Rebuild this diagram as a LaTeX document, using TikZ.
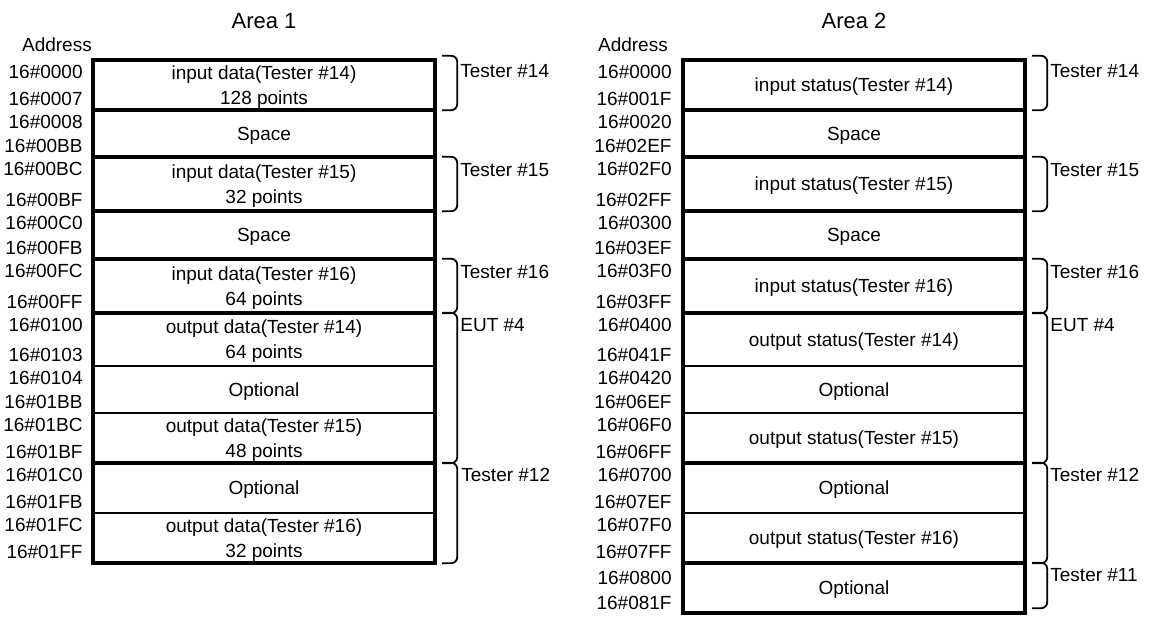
\documentclass[tikz,border=0pt]{standalone}
\usepackage{fontspec}
\setmainfont{Liberation Sans}
\newcommand{\rowfont}{\fontsize{19}{25}\selectfont}
\newcommand{\areafont}{\fontsize{22}{26}\selectfont}

\begin{document}
\begin{tikzpicture}[x=1pt,y=-1pt,
  memrow/.style={minimum width=342pt,inner sep=0pt,align=center,text depth=0pt,font=\rowfont},
  addr/.style={anchor=east,inner sep=0pt,font=\rowfont},
  brlab/.style={anchor=west,inner sep=0pt,font=\rowfont},
  areatitle/.style={inner sep=0pt,font=\areafont},
  septhick/.style={line width=4pt},
  septhin/.style={line width=2pt},
  bracket/.style={line width=1.8pt,rounded corners=6pt}]
\useasboundingbox (0,0) rectangle (1149,617);

% Area 1
\node[areatitle] (t1) at (264,21) {Area 1};
\node[addr] (h1) at (92,45) {Address};
\node[memrow,minimum height=50pt] (a1r1) at (264,85) {input data(Tester \#14)\\128 points};
\node[memrow,minimum height=47pt] (a1r2) at (264,133.5) {Space};
\node[memrow,minimum height=54pt] (a1r3) at (264,184) {input data(Tester \#15)\\32 points};
\node[memrow,minimum height=48pt] (a1r4) at (264,235) {Space};
\node[memrow,minimum height=54pt] (a1r5) at (264,286) {input data(Tester \#16)\\64 points};
\node[memrow,minimum height=53pt] (a1r6) at (264,339.5) {output data(Tester \#14)\\64 points};
\node[memrow,minimum height=47pt] (a1r7) at (264,389.5) {Optional};
\node[memrow,minimum height=50pt] (a1r8) at (264,438) {output data(Tester \#15)\\48 points};
\node[memrow,minimum height=50pt] (a1r9) at (264,488) {Optional};
\node[memrow,minimum height=50pt] (a1r10) at (264,538) {output data(Tester \#16)\\32 points};

\node[addr] (a1s1) at ([xshift=-10pt,yshift=-12pt]a1r1.north west) {16\#0000};
\node[addr] (a1e1) at ([xshift=-10pt,yshift=11pt]a1r1.south west) {16\#0007};
\node[addr] (a1s2) at ([xshift=-10pt,yshift=-12pt]a1r2.north west) {16\#0008};
\node[addr] (a1e2) at ([xshift=-10pt,yshift=11pt]a1r2.south west) {16\#00BB};
\node[addr] (a1s3) at ([xshift=-10pt,yshift=-12pt]a1r3.north west) {16\#00BC};
\node[addr] (a1e3) at ([xshift=-10pt,yshift=11pt]a1r3.south west) {16\#00BF};
\node[addr] (a1s4) at ([xshift=-10pt,yshift=-12pt]a1r4.north west) {16\#00C0};
\node[addr] (a1e4) at ([xshift=-10pt,yshift=11pt]a1r4.south west) {16\#00FB};
\node[addr] (a1s5) at ([xshift=-10pt,yshift=-12pt]a1r5.north west) {16\#00FC};
\node[addr] (a1e5) at ([xshift=-10pt,yshift=11pt]a1r5.south west) {16\#00FF};
\node[addr] (a1s6) at ([xshift=-10pt,yshift=-12pt]a1r6.north west) {16\#0100};
\node[addr] (a1e6) at ([xshift=-10pt,yshift=11pt]a1r6.south west) {16\#0103};
\node[addr] (a1s7) at ([xshift=-10pt,yshift=-12pt]a1r7.north west) {16\#0104};
\node[addr] (a1e7) at ([xshift=-10pt,yshift=11pt]a1r7.south west) {16\#01BB};
\node[addr] (a1s8) at ([xshift=-10pt,yshift=-12pt]a1r8.north west) {16\#01BC};
\node[addr] (a1e8) at ([xshift=-10pt,yshift=11pt]a1r8.south west) {16\#01BF};
\node[addr] (a1s9) at ([xshift=-10pt,yshift=-12pt]a1r9.north west) {16\#01C0};
\node[addr] (a1e9) at ([xshift=-10pt,yshift=11pt]a1r9.south west) {16\#01FB};
\node[addr] (a1s10) at ([xshift=-10pt,yshift=-12pt]a1r10.north west) {16\#01FC};
\node[addr] (a1e10) at ([xshift=-10pt,yshift=11pt]a1r10.south west) {16\#01FF};

\draw[septhick] (a1r1.north west) rectangle (a1r10.south east);
\draw[septhick] (a1r2.north west) -- (a1r2.north east);
\draw[septhick] (a1r3.north west) -- (a1r3.north east);
\draw[septhick] (a1r4.north west) -- (a1r4.north east);
\draw[septhick] (a1r5.north west) -- (a1r5.north east);
\draw[septhick] (a1r6.north west) -- (a1r6.north east);
\draw[septhin] (a1r7.north west) -- (a1r7.north east);
\draw[septhin] (a1r8.north west) -- (a1r8.north east);
\draw[septhick] (a1r9.north west) -- (a1r9.north east);
\draw[septhin] (a1r10.north west) -- (a1r10.north east);

\draw[bracket] ([xshift=7pt,yshift=4pt]a1r1.north east) -| ([xshift=22pt]a1r1.south east) -- ([xshift=7pt]a1r1.south east);
\draw[bracket] ([xshift=7pt]a1r3.north east) -| ([xshift=22pt]a1r3.south east) -- ([xshift=7pt]a1r3.south east);
\draw[bracket] ([xshift=7pt]a1r5.north east) -| ([xshift=22pt]a1r5.south east) -- ([xshift=7pt]a1r5.south east);
\draw[bracket] ([xshift=7pt]a1r6.north east) -| ([xshift=22pt]a1r8.south east) -- ([xshift=7pt]a1r8.south east);
\draw[bracket] ([xshift=7pt]a1r9.north east) -| ([xshift=22pt]a1r10.south east) -- ([xshift=7pt]a1r10.south east);
\node[brlab] (a1b1) at ([xshift=25pt,yshift=-11pt]a1r1.north east) {Tester \#14};
\node[brlab] (a1b3) at ([xshift=25pt,yshift=-13pt]a1r3.north east) {Tester \#15};
\node[brlab] (a1b5) at ([xshift=25pt,yshift=-13pt]a1r5.north east) {Tester \#16};
\node[brlab] (a1b6) at ([xshift=25pt,yshift=-12pt]a1r6.north east) {EUT \#4};
\node[brlab] (a1b9) at ([xshift=26pt,yshift=-12pt]a1r9.north east) {Tester \#12};

% Area 2
\node[areatitle] (t2) at (854,21) {Area 2};
\node[addr] (h2) at (668,45) {Address};
\node[memrow,minimum height=50pt] (a2r1) at (854,85) {input status(Tester \#14)};
\node[memrow,minimum height=47pt] (a2r2) at (854,133.5) {Space};
\node[memrow,minimum height=54pt] (a2r3) at (854,184) {input status(Tester \#15)};
\node[memrow,minimum height=48pt] (a2r4) at (854,235) {Space};
\node[memrow,minimum height=54pt] (a2r5) at (854,286) {input status(Tester \#16)};
\node[memrow,minimum height=53pt] (a2r6) at (854,339.5) {output status(Tester \#14)};
\node[memrow,minimum height=47pt] (a2r7) at (854,389.5) {Optional};
\node[memrow,minimum height=50pt] (a2r8) at (854,438) {output status(Tester \#15)};
\node[memrow,minimum height=50pt] (a2r9) at (854,488) {Optional};
\node[memrow,minimum height=50pt] (a2r10) at (854,538) {output status(Tester \#16)};
\node[memrow,minimum height=50pt] (a2r11) at (854,588) {Optional};

\node[addr] (a2s1) at ([xshift=-11pt,yshift=-12pt]a2r1.north west) {16\#0000};
\node[addr] (a2e1) at ([xshift=-11pt,yshift=11pt]a2r1.south west) {16\#001F};
\node[addr] (a2s2) at ([xshift=-11pt,yshift=-12pt]a2r2.north west) {16\#0020};
\node[addr] (a2e2) at ([xshift=-11pt,yshift=11pt]a2r2.south west) {16\#02EF};
\node[addr] (a2s3) at ([xshift=-11pt,yshift=-12pt]a2r3.north west) {16\#02F0};
\node[addr] (a2e3) at ([xshift=-11pt,yshift=11pt]a2r3.south west) {16\#02FF};
\node[addr] (a2s4) at ([xshift=-11pt,yshift=-12pt]a2r4.north west) {16\#0300};
\node[addr] (a2e4) at ([xshift=-11pt,yshift=11pt]a2r4.south west) {16\#03EF};
\node[addr] (a2s5) at ([xshift=-11pt,yshift=-12pt]a2r5.north west) {16\#03F0};
\node[addr] (a2e5) at ([xshift=-11pt,yshift=11pt]a2r5.south west) {16\#03FF};
\node[addr] (a2s6) at ([xshift=-11pt,yshift=-12pt]a2r6.north west) {16\#0400};
\node[addr] (a2e6) at ([xshift=-11pt,yshift=11pt]a2r6.south west) {16\#041F};
\node[addr] (a2s7) at ([xshift=-11pt,yshift=-12pt]a2r7.north west) {16\#0420};
\node[addr] (a2e7) at ([xshift=-11pt,yshift=11pt]a2r7.south west) {16\#06EF};
\node[addr] (a2s8) at ([xshift=-11pt,yshift=-12pt]a2r8.north west) {16\#06F0};
\node[addr] (a2e8) at ([xshift=-11pt,yshift=11pt]a2r8.south west) {16\#06FF};
\node[addr] (a2s9) at ([xshift=-11pt,yshift=-12pt]a2r9.north west) {16\#0700};
\node[addr] (a2e9) at ([xshift=-11pt,yshift=11pt]a2r9.south west) {16\#07EF};
\node[addr] (a2s10) at ([xshift=-11pt,yshift=-12pt]a2r10.north west) {16\#07F0};
\node[addr] (a2e10) at ([xshift=-11pt,yshift=11pt]a2r10.south west) {16\#07FF};
\node[addr] (a2s11) at ([xshift=-11pt,yshift=-15pt]a2r11.north west) {16\#0800};
\node[addr] (a2e11) at ([xshift=-11pt,yshift=10pt]a2r11.south west) {16\#081F};

\draw[septhick] (a2r1.north west) rectangle (a2r11.south east);
\draw[septhick] (a2r2.north west) -- (a2r2.north east);
\draw[septhick] (a2r3.north west) -- (a2r3.north east);
\draw[septhick] (a2r4.north west) -- (a2r4.north east);
\draw[septhick] (a2r5.north west) -- (a2r5.north east);
\draw[septhick] (a2r6.north west) -- (a2r6.north east);
\draw[septhin] (a2r7.north west) -- (a2r7.north east);
\draw[septhin] (a2r8.north west) -- (a2r8.north east);
\draw[septhick] (a2r9.north west) -- (a2r9.north east);
\draw[septhin] (a2r10.north west) -- (a2r10.north east);
\draw[septhick] (a2r11.north west) -- (a2r11.north east);

\draw[bracket] ([xshift=7pt,yshift=4pt]a2r1.north east) -| ([xshift=22pt]a2r1.south east) -- ([xshift=7pt]a2r1.south east);
\draw[bracket] ([xshift=7pt]a2r3.north east) -| ([xshift=22pt]a2r3.south east) -- ([xshift=7pt]a2r3.south east);
\draw[bracket] ([xshift=7pt]a2r5.north east) -| ([xshift=22pt]a2r5.south east) -- ([xshift=7pt]a2r5.south east);
\draw[bracket] ([xshift=7pt]a2r6.north east) -| ([xshift=22pt]a2r8.south east) -- ([xshift=7pt]a2r8.south east);
\draw[bracket] ([xshift=7pt]a2r9.north east) -| ([xshift=22pt]a2r10.south east) -- ([xshift=7pt]a2r10.south east);
\draw[bracket] ([xshift=7pt]a2r11.north east) -| ([xshift=22pt,yshift=5pt]a2r11.south east) -- ([xshift=7pt,yshift=5pt]a2r11.south east);
\node[brlab] (a2b1) at ([xshift=25pt,yshift=-11pt]a2r1.north east) {Tester \#14};
\node[brlab] (a2b3) at ([xshift=25pt,yshift=-13pt]a2r3.north east) {Tester \#15};
\node[brlab] (a2b5) at ([xshift=25pt,yshift=-13pt]a2r5.north east) {Tester \#16};
\node[brlab] (a2b6) at ([xshift=25pt,yshift=-12pt]a2r6.north east) {EUT \#4};
\node[brlab] (a2b9) at ([xshift=25pt,yshift=-12pt]a2r9.north east) {Tester \#12};
\node[brlab] (a2b11) at ([xshift=25pt,yshift=-12pt]a2r11.north east) {Tester \#11};
\end{tikzpicture}
\end{document}
